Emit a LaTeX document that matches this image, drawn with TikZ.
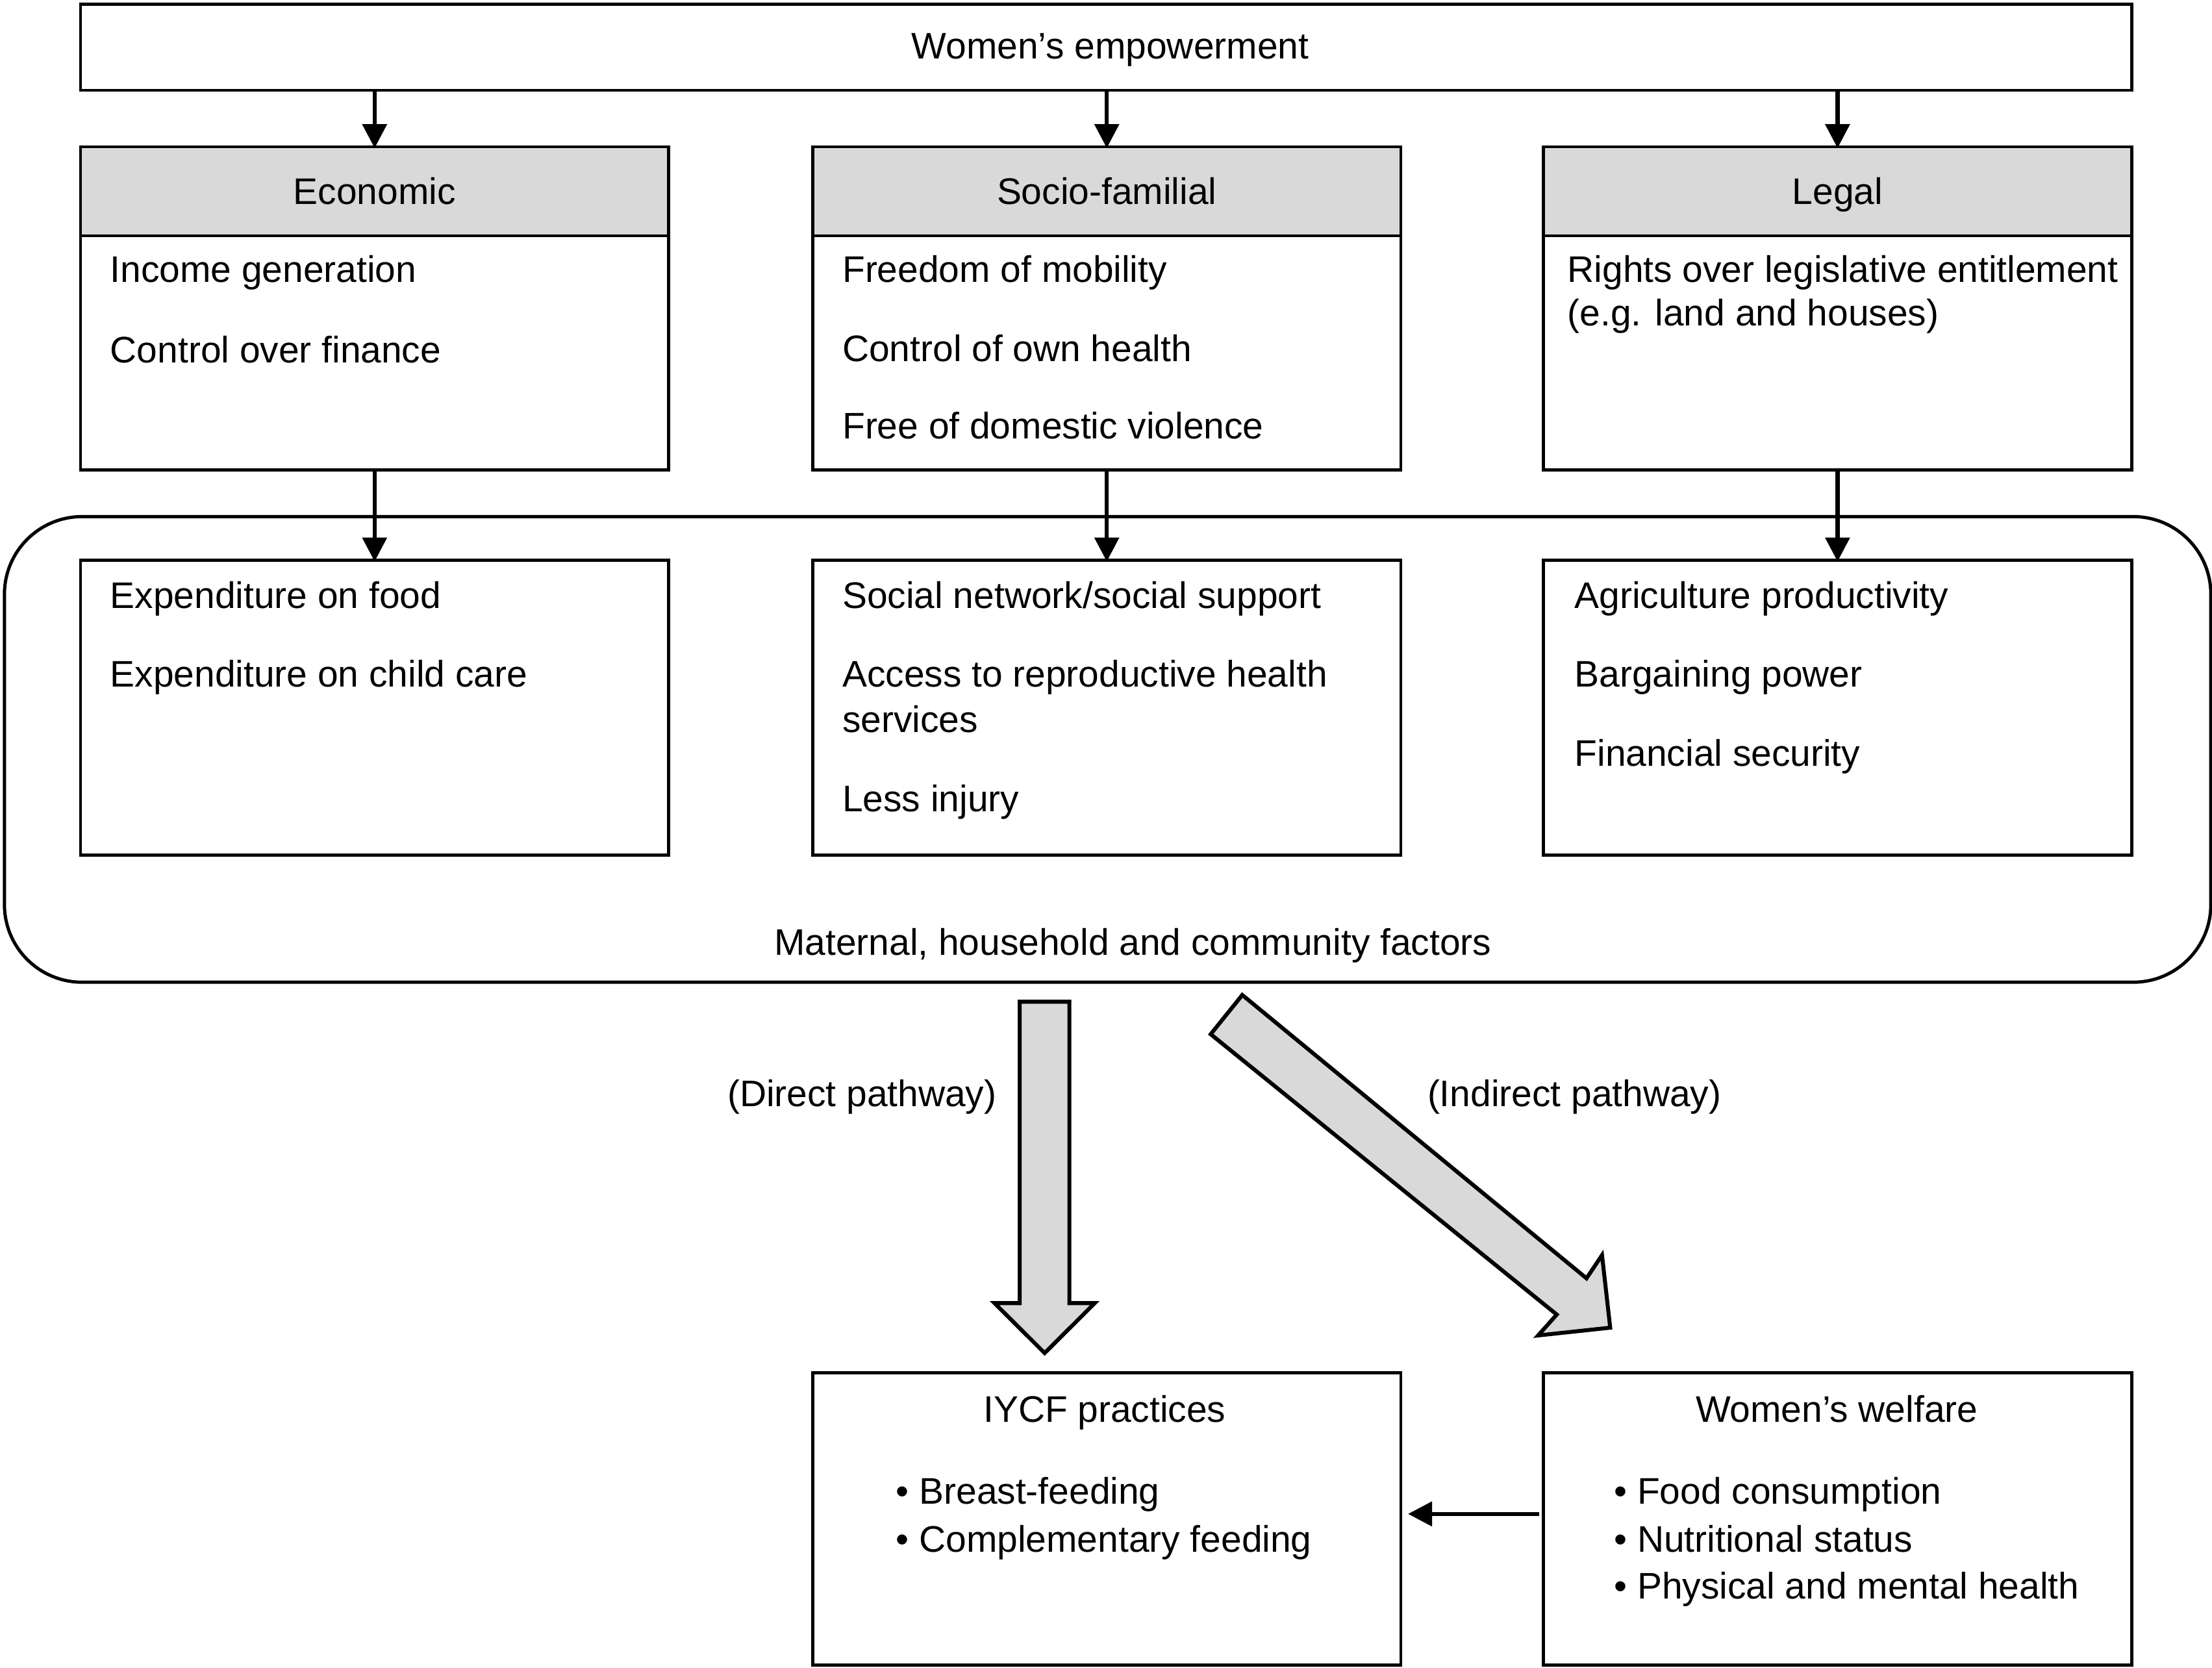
\documentclass[tikz,border=0pt]{standalone}
\usepackage{fontspec}
\setmainfont{Liberation Sans}
\usetikzlibrary{arrows.meta}
\definecolor{hdrgray}{HTML}{D9D9D9}
\newcommand{\dfont}{\fontsize{26.2}{31}\selectfont}
\begin{document}
\begin{tikzpicture}[x=1pt,y=-1pt,
  box/.style={draw, line width=2.1pt, anchor=north west, minimum width=417pt, inner sep=0pt},
  hdr/.style={box, fill=hdrgray, minimum height=63pt, text height=18.8pt, text depth=0pt, font=\dfont},
  txt/.style={anchor=base west, inner sep=0pt, font=\dfont},
  ctxt/.style={anchor=base, inner sep=0pt, font=\dfont},
  arr/.style={-{Triangle[length=17pt,width=17pt]}, line width=3pt},
  big/.style={draw, line width=2.8pt, fill=hdrgray, line join=miter}]
\useasboundingbox (0,0) rectangle (1568,1182.2);

% top box
\node[box, minimum width=1454pt, minimum height=61pt] (top) at (56,2) {};
\node[ctxt] (topT) at (787,41.5) {Women’s empowerment};

% three upper boxes
\node[box, minimum height=229pt] (econ) at (56,103) {};
\node[hdr] (econH) at (56,103) {Economic};
\node[box, minimum height=229pt] (soc) at (575,103) {};
\node[hdr] (socH) at (575,103) {Socio-familial};
\node[box, minimum height=229pt] (leg) at (1093,103) {};
\node[hdr] (legH) at (1093,103) {Legal};

\node[txt] (e1) at (78,200) {Income generation};
\node[txt] (e2) at (78,257) {Control over finance};
\node[txt] (s1) at (597,200) {Freedom of mobility};
\node[txt] (s2) at (597,256) {Control of own health};
\node[txt] (s3) at (597,311) {Free of domestic violence};
\node[txt] (l1) at (1111,200) {Rights over legislative entitlement};
\node[txt] (l2) at (1111,231) {(e.g. land and houses)};

\draw[arr, shorten >=-2pt] (top.south -| econH.north) -- (econH.north);
\draw[arr, shorten >=-2pt] (top.south -| socH.north) -- (socH.north);
\draw[arr, shorten >=-2pt] (top.south -| legH.north) -- (legH.north);

% rounded container
\node[draw, line width=2.3pt, rounded corners=55pt, minimum width=1564pt, minimum height=330pt, anchor=north west, inner sep=0pt] (mhc) at (2,365) {};
\node[ctxt] (mhcL) at (803,677) {Maternal, household and community factors};

% lower boxes
\node[box, minimum height=209pt] (econL) at (56,396) {};
\node[box, minimum height=209pt] (socL) at (575,396) {};
\node[box, minimum height=209pt] (legL) at (1093,396) {};

\node[txt] (el1) at (78,431) {Expenditure on food};
\node[txt] (el2) at (78,487) {Expenditure on child care};
\node[txt] (sl1) at (597,431) {Social network/social support};
\node[txt] (sl2) at (597,487) {Access to reproductive health};
\node[txt] (sl3) at (597,519) {services};
\node[txt] (sl4) at (597,575) {Less injury};
\node[txt] (ll1) at (1116,431) {Agriculture productivity};
\node[txt] (ll2) at (1116,487) {Bargaining power};
\node[txt] (ll3) at (1116,543) {Financial security};

\draw[arr, shorten >=-2pt] (econ.south) -- (econL.north);
\draw[arr, shorten >=-2pt] (soc.south) -- (socL.north);
\draw[arr, shorten >=-2pt] (leg.south) -- (legL.north);

% big block arrows
\draw[big] (722.8,710) -- (758,710) -- (758,923.6) -- (776,923.6) -- (740.5,959) -- (705,923.6) -- (722.8,923.6) -- cycle;
\draw[big] (880.6,705.2) -- (1124.6,906) -- (1135.6,889.6) -- (1141.4,941) -- (1090.3,946.5) -- (1103.5,931.7) -- (858.2,733) -- cycle;
\node[ctxt] (dp) at (611,784) {(Direct pathway)};
\node[ctxt] (ip) at (1116,784) {(Indirect pathway)};

% bottom boxes
\node[box, minimum height=207pt] (iycf) at (575,972) {};
\node[box, minimum height=207pt] (ww) at (1093,972) {};
\node[ctxt] (iycfT) at (783,1008) {IYCF practices};
\node[ctxt] (wwT) at (1302,1008) {Women’s welfare};
\node[txt] (i1) at (635,1066) {• Breast-feeding};
\node[txt] (i2) at (635,1100) {• Complementary feeding};
\node[txt] (w1) at (1144,1066) {• Food consumption};
\node[txt] (w2) at (1144,1100) {• Nutritional status};
\node[txt] (w3) at (1144,1133) {• Physical and mental health};

\coordinate (arrY) at (0,1073);
\draw[arr, shorten <=2pt, shorten >=4pt] (ww.west |- arrY) -- (iycf.east |- arrY);
\end{tikzpicture}
\end{document}
